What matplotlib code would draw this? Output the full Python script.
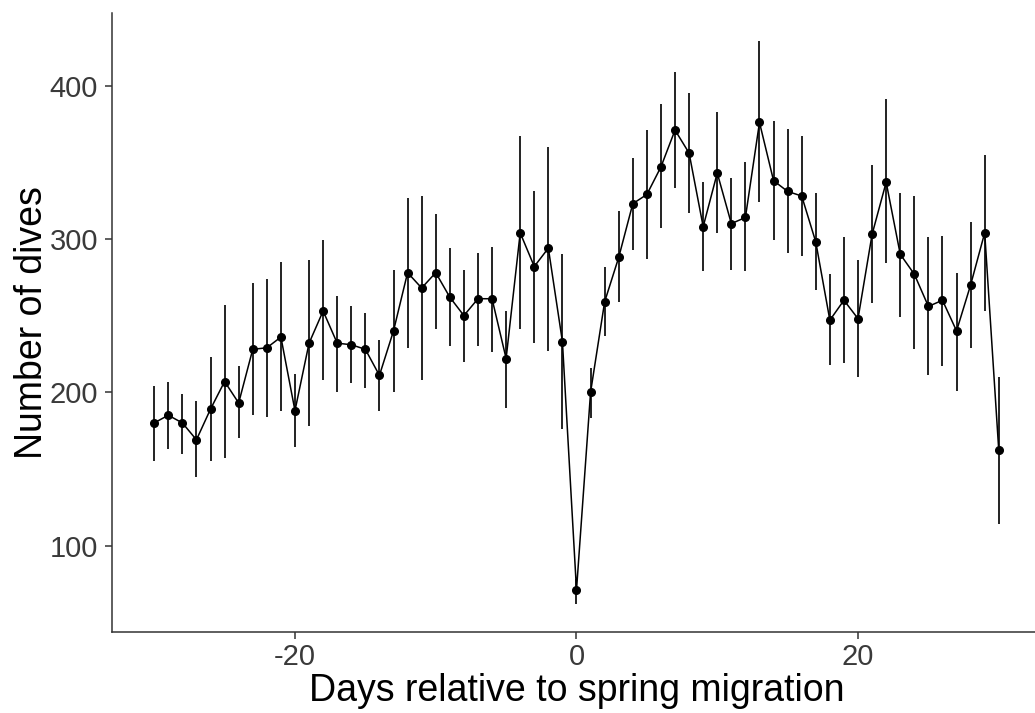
import matplotlib
matplotlib.use("Agg")
import matplotlib.pyplot as plt

# dive counts around spring migration (mean and error bar limits)
days = list(range(-30, 31))
dives = [180, 185, 180, 169, 189, 207, 193, 228, 229, 236,
         188, 232, 253, 232, 231, 228, 211, 240, 278, 268,
         278, 262, 250, 261, 261, 222, 304, 282, 294, 233,
         71, 200, 259, 288, 323, 329, 347, 371, 356, 308,
         343, 310, 314, 376, 338, 331, 328, 298, 247, 260,
         248, 303, 337, 290, 277, 256, 260, 240, 270, 304,
         162]
lower = [155, 163, 160, 145, 155, 157, 170, 185, 184, 188,
         164, 178, 208, 200, 206, 203, 188, 200, 229, 208,
         241, 230, 220, 230, 226, 190, 241, 232, 227, 176,
         62, 183, 237, 259, 293, 287, 307, 333, 317, 279,
         304, 280, 279, 324, 299, 291, 289, 267, 218, 219,
         210, 258, 284, 249, 228, 211, 217, 201, 229, 253,
         114]
upper = [204, 207, 199, 194, 223, 257, 217, 271, 274, 285,
         212, 286, 299, 263, 256, 252, 234, 280, 327, 328,
         316, 294, 280, 291, 295, 253, 367, 331, 360, 290,
         78, 216, 282, 318, 353, 371, 388, 409, 395, 337,
         383, 340, 350, 429, 377, 372, 367, 330, 277, 301,
         286, 348, 391, 330, 328, 301, 302, 278, 311, 355,
         210]

plt.rcParams['font.family'] = ['Liberation Sans', 'DejaVu Sans']
plt.rcParams['axes.unicode_minus'] = False

fig = plt.figure(figsize=(10.35, 7.13), dpi=100, facecolor='white')
ax = fig.add_axes([0.1082, 0.1136, 0.8976, 0.8682])

ax.vlines(days, lower, upper, color='#222222', linewidth=1.4, zorder=2)
ax.plot(days, dives, color='black', linewidth=1.1, zorder=3)
ax.plot(days, dives, 'o', color='black', markersize=5.5, zorder=4)

ax.set_xlim(-33, 33)
ax.set_ylim(43.6, 447.4)
ax.set_xticks([-20, 0, 20])
ax.set_yticks([100, 200, 300, 400])

for side in ['top', 'right']:
    ax.spines[side].set_visible(False)
for side in ['left', 'bottom']:
    ax.spines[side].set_color('#333333')
    ax.spines[side].set_linewidth(1.1)

ax.tick_params(axis='both', colors='#333333', labelcolor='#3a3a3a',
               labelsize=21, length=5, width=1.1)
ax.tick_params(axis='y', pad=5)
ax.tick_params(axis='x', pad=3)

ax.set_xlabel('Days relative to spring migration', fontsize=27, labelpad=1)
ax.set_ylabel('Number of dives', fontsize=27, labelpad=0)

fig.savefig('out.png', dpi=100, facecolor='white')
